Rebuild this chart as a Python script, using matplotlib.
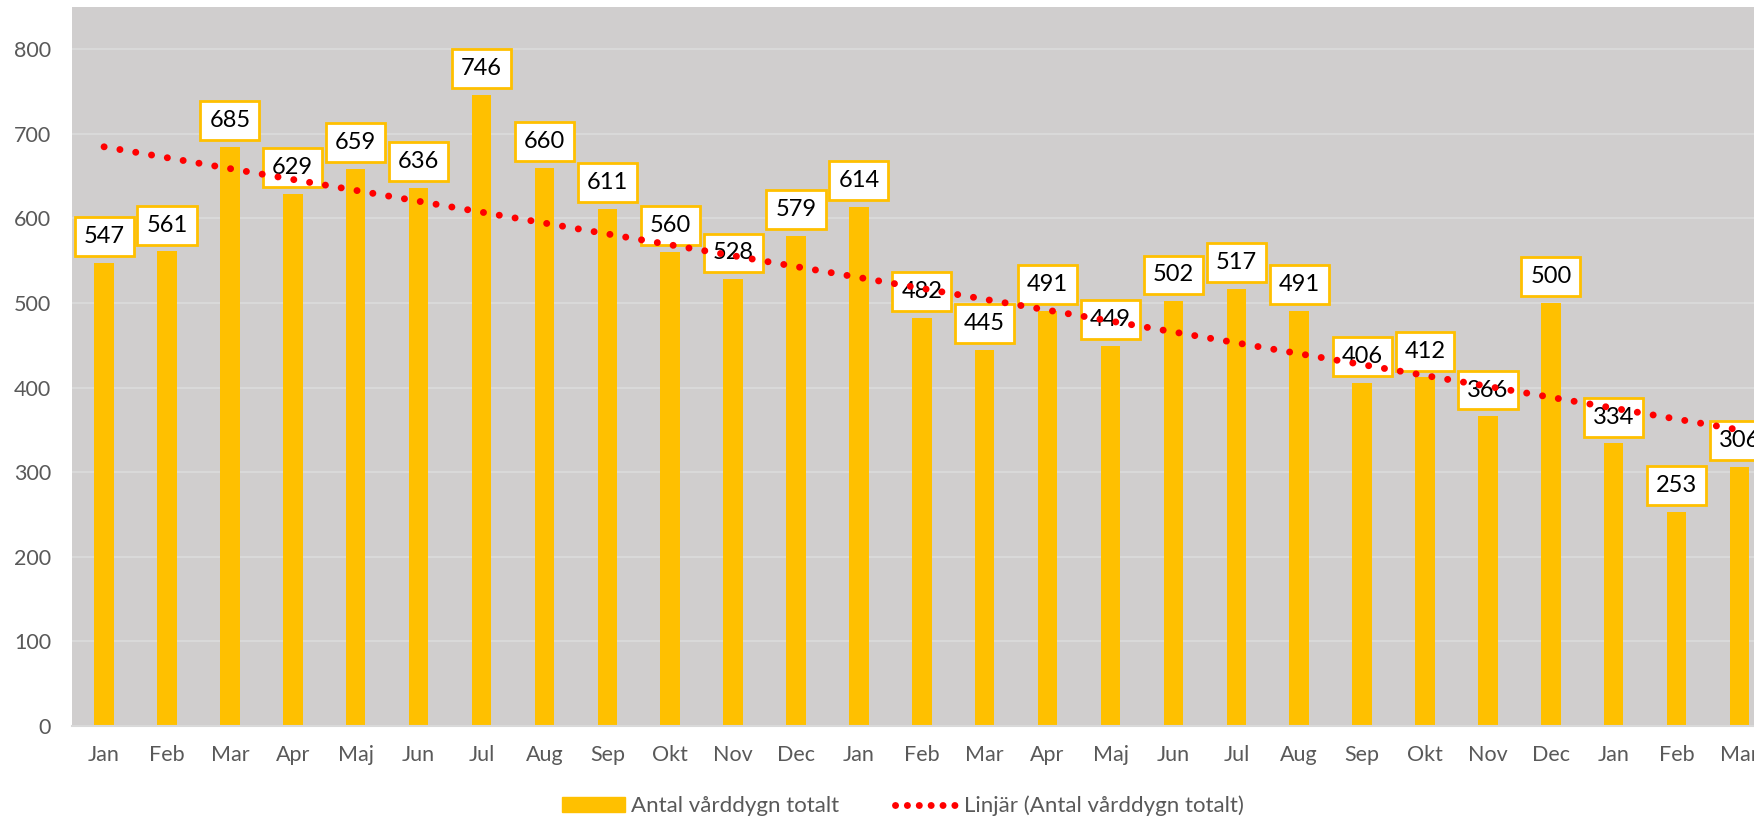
import matplotlib
matplotlib.use('Agg')
import matplotlib.pyplot as plt
import numpy as np
from matplotlib.patches import Patch
from matplotlib.lines import Line2D

plt.rcParams['font.family'] = ['Lato', 'DejaVu Sans']

# months over the period, Jan (year 1) to Mar (year 3)
months = ['Jan', 'Feb', 'Mar', 'Apr', 'Maj', 'Jun', 'Jul', 'Aug', 'Sep', 'Okt', 'Nov', 'Dec',
          'Jan', 'Feb', 'Mar', 'Apr', 'Maj', 'Jun', 'Jul', 'Aug', 'Sep', 'Okt', 'Nov', 'Dec',
          'Jan', 'Feb', 'Mar']
varddygn = [547, 561, 685, 629, 659, 636, 746, 660, 611, 560, 528, 579,
            614, 482, 445, 491, 449, 502, 517, 491, 406, 412, 366, 500,
            334, 253, 306]

bar_color = '#FFC000'
text_grey = '#595959'

fig = plt.figure(figsize=(17.54, 8.23), dpi=100)
ax = fig.add_axes([72 / 1754, 97 / 823, 1 - 72 / 1754, (726 - 7) / 823])
ax.set_facecolor('#D0CECE')

x = np.arange(len(varddygn))
ax.bar(x, varddygn, width=0.31, color=bar_color, zorder=2)

# data labels in white boxes with orange frame
for xi, v in zip(x, varddygn):
    ax.annotate(str(v), (xi, v), xytext=(0, 19), textcoords='offset points',
                ha='center', va='center', fontsize=17, color='black', zorder=3,
                bbox=dict(boxstyle='square,pad=0.38', fc='white', ec=bar_color, lw=2))

# linear trend (like Excel's "Linjär" trendline)
k, m = np.polyfit(x, varddygn, 1)
trend = k * x + m
ax.plot(x, trend, color='#FF0000', lw=5, linestyle=(0, (0.01, 2.3)),
        dash_capstyle='round', zorder=4)

ax.set_xlim(-0.51, 26.23)
ax.set_ylim(0, 850)
ax.set_yticks(range(0, 900, 100))
ax.set_xticks(x)
ax.set_xticklabels(months)
ax.yaxis.grid(True, color='#DCDCDC', lw=1.2, zorder=1)
ax.set_axisbelow(True)
for s in ['top', 'right', 'left']:
    ax.spines[s].set_visible(False)
ax.spines['bottom'].set_color('#D9D9D9')
ax.spines['bottom'].set_linewidth(1.5)
ax.tick_params(axis='both', length=0, labelsize=15.5, labelcolor=text_grey)
ax.tick_params(axis='x', pad=14)
ax.tick_params(axis='y', pad=15)

handles = [Patch(color=bar_color, label='Antal vårddygn totalt'),
           Line2D([0], [0], color='#FF0000', lw=5, linestyle=(0, (0.01, 1.7)),
                  dash_capstyle='round', label='Linjär (Antal vårddygn totalt)')]
fig.legend(handles=handles, loc='center', bbox_to_anchor=(903 / 1754, 17 / 823),
           ncol=2, frameon=False, fontsize=16, labelcolor=text_grey,
           handlelength=2.8, handleheight=0.7, handletextpad=0.3, columnspacing=2.5)

fig.savefig('out.png', dpi=100)
